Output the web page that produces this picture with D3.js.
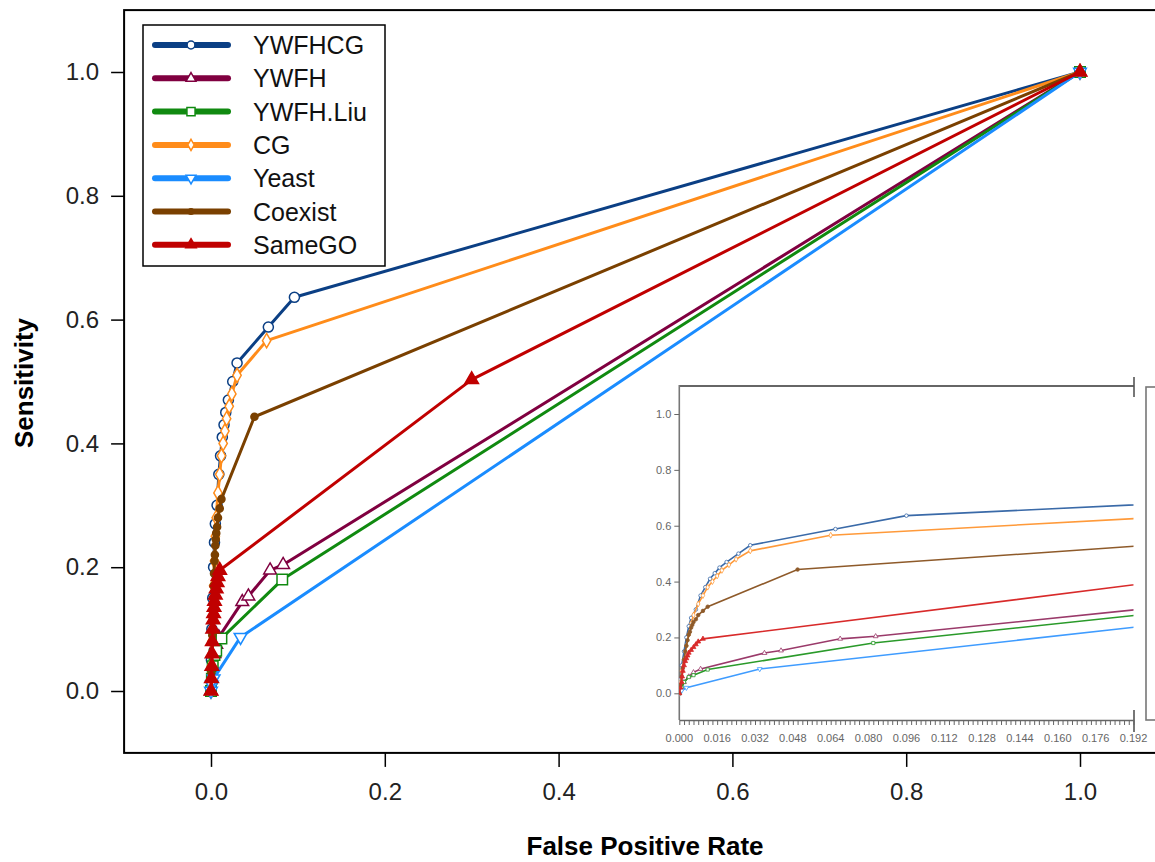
<!DOCTYPE html>
<html><head><meta charset="utf-8">
<script src="https://cdn.jsdelivr.net/npm/d3@7/dist/d3.min.js"></script>
<style>body{margin:0;background:#fff}svg{display:block;font-family:"Liberation Sans",Arial,sans-serif}</style>
</head><body>
<svg id="c" width="1155" height="862"></svg>
<script>
// ---- data (FPR, Sensitivity) ----
const seriesNames = ["YWFHCG","YWFH","YWFH.Liu","CG","Yeast","Coexist","SameGO"];
const YWFHCG = [[0,0],[0.0005,0.05],[0.001,0.1],[0.002,0.15],[0.003,0.2],[0.004,0.24],[0.005,0.27],[0.007,0.3],[0.009,0.35],[0.011,0.38],[0.013,0.41],[0.015,0.43],[0.017,0.45],[0.02,0.47],[0.025,0.5],[0.030,0.53],[0.066,0.588],[0.096,0.636],[1,1]];
const YWFH = [[0,0],[0.001,0.02],[0.002,0.04],[0.004,0.06],[0.006,0.075],[0.009,0.087],[0.036,0.144],[0.043,0.153],[0.068,0.195],[0.083,0.204],[1,1]];
const YWFH_Liu = [[0,0],[0.001,0.02],[0.002,0.04],[0.004,0.058],[0.006,0.065],[0.012,0.085],[0.082,0.18],[1,1]];
const CG = [[0,0],[0.0005,0.04],[0.001,0.08],[0.002,0.12],[0.003,0.17],[0.004,0.21],[0.005,0.25],[0.006,0.28],[0.008,0.32],[0.010,0.35],[0.012,0.38],[0.014,0.40],[0.016,0.42],[0.018,0.44],[0.021,0.46],[0.024,0.48],[0.030,0.51],[0.064,0.566],[1,1]];
const Yeast = [[0,0],[0.001,0.01],[0.003,0.02],[0.034,0.087],[1,1]];
const Coexist = [[0,0],[0.0005,0.03],[0.001,0.06],[0.0015,0.09],[0.002,0.12],[0.0025,0.15],[0.003,0.17],[0.0035,0.19],[0.004,0.21],[0.0045,0.22],[0.005,0.235],[0.0055,0.245],[0.006,0.255],[0.007,0.265],[0.008,0.28],[0.010,0.295],[0.012,0.31],[0.050,0.443],[1,1]];
const SameGO = [[0,0],[0.0005,0.02],[0.001,0.04],[0.0012,0.06],[0.0015,0.08],[0.002,0.1],[0.0025,0.115],[0.003,0.125],[0.0035,0.135],[0.004,0.145],[0.005,0.155],[0.006,0.165],[0.007,0.175],[0.008,0.185],[0.010,0.195],[0.30,0.503],[1,1]];
const seriesData = [YWFHCG, YWFH, YWFH_Liu, CG, Yeast, Coexist, SameGO];
const mainXTicks = [0,0.2,0.4,0.6,0.8,1.0];
const mainYTicks = [0,0.2,0.4,0.6,0.8,1.0];
const insetXTicks = [0,0.016,0.032,0.048,0.064,0.080,0.096,0.112,0.128,0.144,0.160,0.176,0.192];
const insetYTicks = [0,0.2,0.4,0.6,0.8,1.0];

// ---- styles ----
const colors = ["#0b3f84","#800040","#108a10","#ff8c1a","#1a8cff","#7a4000","#c00000"];
const insetColors = ["#3a6aa8","#9a3a6a","#2a9a2a","#ff9a3a","#3f9cff","#8e5a2a","#d82a2a"];
const symTypes = [d3.symbolCircle,d3.symbolTriangle,d3.symbolSquare,d3.symbolDiamond,d3.symbolTriangle,d3.symbolCircle,d3.symbolTriangle];
const symSize = [80,70,110,60,70,40,80];
const symFilled = [false,false,false,false,false,true,true];
const symRot = [0,0,0,0,180,0,0];

const svg = d3.select("#c");

// ---- main plot ----
const x = d3.scaleLinear().domain([-0.1,1.1]).range([124.1,1166.9]);
const y = d3.scaleLinear().domain([-0.1,1.1]).range([752.9,10.1]);

svg.append("rect").attr("x",x(-0.1)).attr("y",y(1.1)).attr("width",x(1.1)-x(-0.1)).attr("height",y(-0.1)-y(1.1))
  .attr("fill","none").attr("stroke","#000").attr("stroke-width",2);

const gx = svg.append("g").attr("transform",`translate(0,${y(-0.1)})`)
  .call(d3.axisBottom(x).tickValues(mainXTicks).tickFormat(d3.format(".1f")).tickSize(14).tickPadding(16));
gx.select(".domain").remove();
gx.selectAll("line").attr("stroke","#000").attr("stroke-width",1.5);
gx.selectAll("text").attr("font-size",24).attr("fill","#222").attr("font-family","'Liberation Sans',Arial");

const gy = svg.append("g").attr("transform",`translate(${x(-0.1)},0)`)
  .call(d3.axisLeft(y).tickValues(mainYTicks).tickFormat(d3.format(".1f")).tickSize(13).tickPadding(12));
gy.select(".domain").remove();
gy.selectAll("line").attr("stroke","#000").attr("stroke-width",1.5);
gy.selectAll("text").attr("font-size",24).attr("fill","#222").attr("font-family","'Liberation Sans',Arial");

svg.append("text").attr("x",645).attr("y",855).attr("text-anchor","middle")
  .attr("font-size",26).attr("font-weight","bold").text("False Positive Rate");
svg.append("text").attr("transform","translate(33,383) rotate(-90)").attr("text-anchor","middle")
  .attr("font-size",26).attr("font-weight","bold").text("Sensitivity");

const line = d3.line().x(d=>x(d[0])).y(d=>y(d[1]));
seriesData.forEach((data,i)=>{
  svg.append("path").datum(data).attr("d",line).attr("fill","none")
    .attr("stroke",colors[i]).attr("stroke-width",3).attr("stroke-linejoin","round");
  const sym = d3.symbol().type(symTypes[i]).size(symSize[i]);
  svg.append("g").selectAll("path").data(data).join("path")
    .attr("d",sym)
    .attr("transform",d=>`translate(${x(d[0])},${y(d[1])}) rotate(${symRot[i]})`)
    .attr("fill",symFilled[i]?colors[i]:"#fff")
    .attr("stroke",colors[i]).attr("stroke-width",1.5);
});

// ---- legend ----
const leg = svg.append("g");
leg.append("rect").attr("x",143).attr("y",25).attr("width",242).attr("height",241)
  .attr("fill","#fff").attr("stroke","#000").attr("stroke-width",1.5);
seriesNames.forEach((n,i)=>{
  const cy = 45 + i*33.3;
  leg.append("line").attr("x1",155).attr("x2",228).attr("y1",cy).attr("y2",cy)
    .attr("stroke",colors[i]).attr("stroke-width",6).attr("stroke-linecap","round");
  leg.append("path").attr("d",d3.symbol().type(symTypes[i]).size(symSize[i]*0.6))
    .attr("transform",`translate(191,${cy}) rotate(${symRot[i]})`)
    .attr("fill",symFilled[i]?colors[i]:"#fff").attr("stroke",colors[i]).attr("stroke-width",1.5);
  leg.append("text").attr("x",253).attr("y",cy+9).attr("font-size",25).attr("fill","#111").text(n);
});

// ---- inset ----
const ix = d3.scaleLinear().domain([0,0.192]).range([679.3,1133.5]);
const iy = d3.scaleLinear().domain([0,1]).range([693.3,414]);
const inset = svg.append("g");
inset.append("rect").attr("x",679.3).attr("y",386).attr("width",1133.5-679.3).attr("height",720-386).attr("fill","#fff");
svg.append("defs").append("clipPath").attr("id","ic").append("rect")
  .attr("x",679.3).attr("y",386).attr("width",1133.5-679.3).attr("height",720-386);

// frame pieces
inset.append("line").attr("x1",679.3).attr("x2",1134).attr("y1",386).attr("y2",386).attr("stroke","#666").attr("stroke-width",2.2);
inset.append("line").attr("x1",679.3).attr("x2",679.3).attr("y1",385).attr("y2",720).attr("stroke","#777").attr("stroke-width",1.6);
inset.append("line").attr("x1",1134).attr("x2",1134).attr("y1",377).attr("y2",397).attr("stroke","#555").attr("stroke-width",1.6);
inset.append("line").attr("x1",1134).attr("x2",1134).attr("y1",710).attr("y2",732).attr("stroke","#555").attr("stroke-width",1.6);
// inset legend box (cut off)
inset.append("rect").attr("x",1146).attr("y",387).attr("width",30).attr("height",333)
  .attr("fill","#fff").attr("stroke","#777").attr("stroke-width",1.6);

const igx = inset.append("g").attr("transform","translate(0,720)")
  .call(d3.axisBottom(ix).tickValues(d3.range(0,97).map(k=>k*0.002)).tickFormat("").tickSize(5).tickSizeOuter(0));
igx.select(".domain").attr("stroke","#666").attr("stroke-width",1.6);
igx.selectAll("line").attr("stroke","#666");
inset.append("g").selectAll("text").data(insetXTicks).join("text")
  .attr("x",d=>ix(d)).attr("y",742).attr("text-anchor","middle")
  .attr("font-size",11).attr("fill","#666").text(d=>d3.format(".3f")(d));

const igy = inset.append("g").attr("transform","translate(679.3,0)")
  .call(d3.axisLeft(iy).tickValues(insetYTicks).tickFormat(d3.format(".1f")).tickSize(5).tickPadding(3));
igy.select(".domain").remove();
igy.selectAll("line").attr("stroke","#666");
igy.selectAll("text").attr("font-size",11).attr("fill","#666").attr("font-family","'Liberation Sans',Arial");

const iline = d3.line().x(d=>ix(d[0])).y(d=>iy(d[1]));
const ig = inset.append("g").attr("clip-path","url(#ic)");
seriesData.forEach((data,i)=>{
  ig.append("path").datum(data).attr("d",iline).attr("fill","none")
    .attr("stroke",insetColors[i]).attr("stroke-width",1.6);
  const sym = d3.symbol().type(symTypes[i]).size(10);
  ig.append("g").selectAll("path").data(data.filter(d=>d[0]<=0.192)).join("path")
    .attr("d",sym)
    .attr("transform",d=>`translate(${ix(d[0])},${iy(d[1])}) rotate(${symRot[i]})`)
    .attr("fill",symFilled[i]?insetColors[i]:"#fff")
    .attr("stroke",insetColors[i]).attr("stroke-width",0.8);
});
</script>
</body></html>
